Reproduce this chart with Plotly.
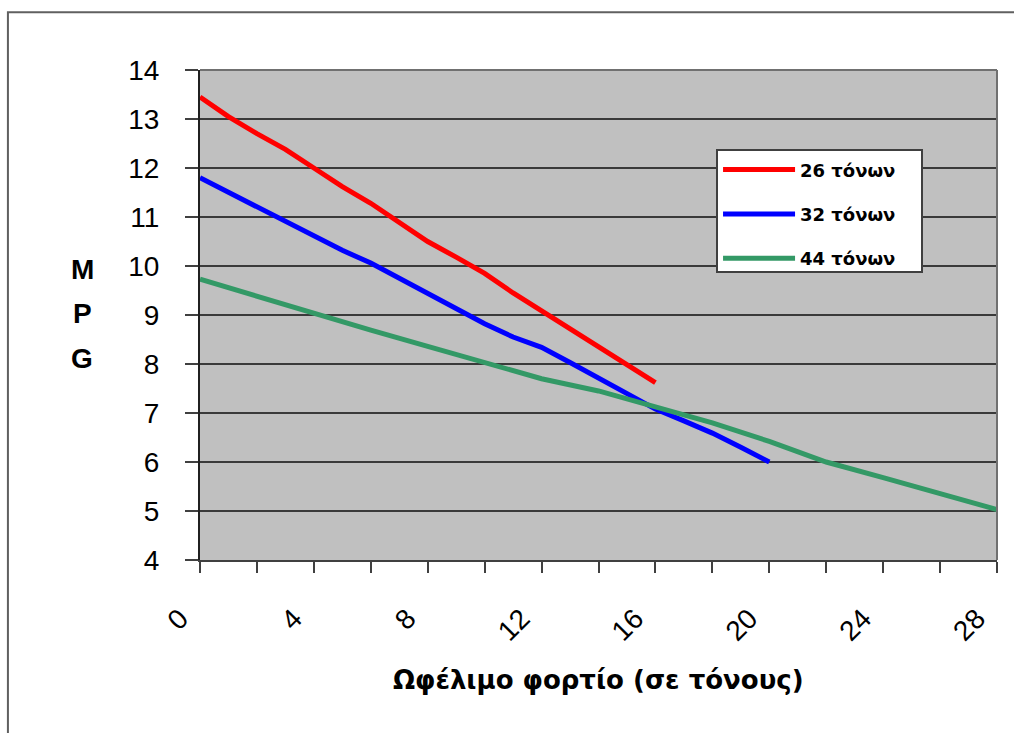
import plotly.graph_objects as go

# Data
x_26 = list(range(0, 17))
mpg_26 = [13.45, 13.05, 12.7, 12.38, 12.0, 11.62, 11.28, 10.9, 10.5, 10.18, 9.85, 9.45, 9.08, 8.7, 8.33, 7.98, 7.62]

x_32 = list(range(0, 21))
mpg_32 = [11.8, 11.5, 11.22, 10.92, 10.62, 10.32, 10.06, 9.75, 9.42, 9.12, 8.82, 8.55, 8.34, 8.03, 7.72, 7.4, 7.08, 6.84, 6.59, 6.3, 6.0]

x_44 = [0, 2, 4, 6, 8, 10, 12, 14, 16, 18, 20, 22, 24, 26, 28]
mpg_44 = [9.73, 9.38, 9.04, 8.69, 8.36, 8.02, 7.7, 7.45, 7.12, 6.8, 6.42, 6.0, 5.68, 5.35, 5.03]

series_names = ["26 τόνων", "32 τόνων", "44 τόνων"]
series_colors = ["#FF0000", "#0000FF", "#339966"]

x_ticks = [0, 4, 8, 12, 16, 20, 24, 28]
y_ticks = [4, 5, 6, 7, 8, 9, 10, 11, 12, 13, 14]

x_title = "Ωφέλιμο φορτίο (σε τόνους)"
y_title_letters = ["M", "P", "G"]

fig = go.Figure()
for i, (xs, ys) in enumerate([(x_26, mpg_26), (x_32, mpg_32), (x_44, mpg_44)]):
    fig.add_trace(go.Scatter(
        x=xs, y=ys, mode="lines", name=series_names[i],
        legendgroup=f"g{i}",
        line=dict(color=series_colors[i], width=5),
    ))

tick_font = dict(family="Liberation Sans, Arial, sans-serif", size=28, color="#000000")

fig.update_layout(
    width=1014, height=733,
    margin=dict(l=200, r=17, t=70, b=173),
    paper_bgcolor="#FFFFFF",
    plot_bgcolor="#C0C0C0",
    showlegend=True,
    legend=dict(
        x=0.65, y=0.834, xanchor="left", yanchor="top",
        bgcolor="rgba(0,0,0,0)", borderwidth=0,
        font=dict(family="DejaVu Sans, Verdana, sans-serif", size=18, color="#000000", weight="bold"),
        tracegroupgap=18, itemwidth=72,
    ),
    xaxis=dict(
        range=[0, 28], tickvals=x_ticks, ticktext=[str(v) for v in x_ticks],
        tickangle=-45, tickfont=tick_font, automargin=False,
        ticklabelshift=-20, ticklabelstandoff=18,
        showgrid=False, zeroline=False,
        showline=True, linecolor="#404040", linewidth=2,
        ticks="outside", ticklen=11, tickwidth=2, tickcolor="#404040",
        minor=dict(dtick=2, tick0=0, ticks="outside", ticklen=11, tickwidth=2, tickcolor="#404040", showgrid=False),
        mirror=False,
    ),
    yaxis=dict(
        range=[4, 14], tickvals=y_ticks, tickfont=tick_font, automargin=False,
        showgrid=True, gridcolor="#3A3A3A", gridwidth=2,
        zeroline=False,
        showline=True, linecolor="#202020", linewidth=2,
        ticks="outside", ticklen=13, tickwidth=2, tickcolor="#404040",
        ticklabelstandoff=20,
    ),
)

# plot area border (top and right)
fig.add_shape(type="line", xref="paper", yref="paper", x0=0, x1=1, y0=1, y1=1,
              line=dict(color="#707070", width=2))
fig.add_shape(type="line", xref="paper", yref="paper", x0=1, x1=1, y0=0, y1=1,
              line=dict(color="#707070", width=2))

# legend box
fig.add_shape(type="rect", xref="paper", yref="paper",
              x0=(717 - 200) / 797, x1=(922 - 200) / 797,
              y0=(560 - 272) / 490, y1=(560 - 150) / 490,
              fillcolor="#FFFFFF", line=dict(color="#404040", width=2), layer="above")

# outer frame (top and left)
fig.add_shape(type="path", xref="paper", yref="paper",
              path="M -0.241 -0.4 L -0.241 1.118 L 1.05 1.118",
              line=dict(color="#606060", width=2))

# x-axis title
fig.add_annotation(text=f"<b>{x_title}</b>", xref="paper", yref="paper",
                   x=0.5, y=-0.245, xanchor="center", yanchor="middle", showarrow=False,
                   font=dict(family="DejaVu Sans, Verdana, sans-serif", size=26, color="#000000"))

# y-axis title stacked letters
for letter, yp in zip(y_title_letters, [0.592, 0.504, 0.412]):
    fig.add_annotation(text=f"<b>{letter}</b>", xref="paper", yref="paper",
                       x=-0.148, y=yp, xanchor="center", yanchor="middle", showarrow=False,
                       font=dict(family="Liberation Sans, Arial, sans-serif", size=28, color="#000000"))

fig.write_html("out.html")
